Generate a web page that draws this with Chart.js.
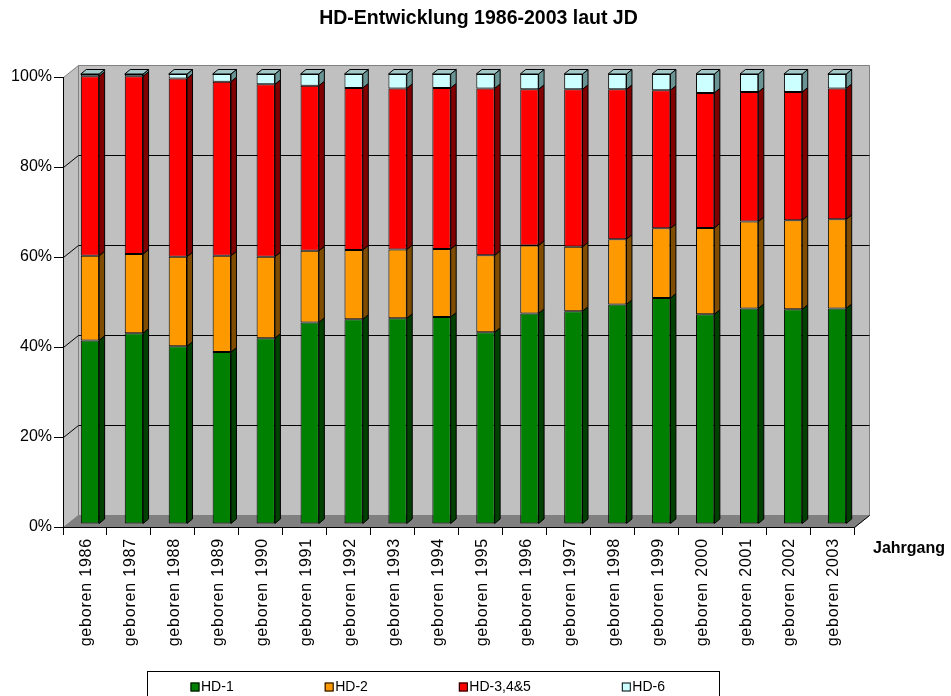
<!DOCTYPE html>
<html>
<head>
<meta charset="utf-8">
<script src="https://cdn.jsdelivr.net/npm/chart.js@4.4.1/dist/chart.umd.min.js"></script>
<style>
  html, body { margin: 0; padding: 0; background: #fff; }
</style>
</head>
<body>
<canvas id="hdChart" width="951" height="696"></canvas>
<script>
// Categories (Jahrgang)
const categories = [
  "geboren 1986", "geboren 1987", "geboren 1988", "geboren 1989", "geboren 1990", "geboren 1991",
  "geboren 1992", "geboren 1993", "geboren 1994", "geboren 1995", "geboren 1996", "geboren 1997",
  "geboren 1998", "geboren 1999", "geboren 2000", "geboren 2001", "geboren 2002", "geboren 2003"
];

// Shares in percent
const hd1   = [40.8, 42.4, 39.5, 38.2, 41.3, 44.8, 45.5, 45.7, 46.0, 42.6, 46.8, 47.3, 48.8, 50.2, 46.6, 47.9, 47.7, 47.9];
const hd2   = [18.8, 17.6, 19.9, 21.4, 18.1, 15.9, 15.4, 15.3, 15.1, 17.1, 15.1, 14.3, 14.5, 15.5, 19.2, 19.3, 19.8, 19.8];
const hd345 = [39.9, 39.5, 39.6, 38.7, 38.3, 36.7, 36.0, 35.8, 35.8, 37.1, 34.7, 35.0, 33.3, 30.7, 30.0, 28.8, 28.5, 29.1];
const hd6   = [0.5, 0.5, 1.0, 1.7, 2.3, 2.6, 3.1, 3.2, 3.1, 3.2, 3.4, 3.4, 3.4, 3.6, 4.2, 4.0, 4.0, 3.2];

const seriesNames = ["HD-1", "HD-2", "HD-3,4&5", "HD-6"];
const yTicks = [0, 20, 40, 60, 80, 100];
const chartTitle = "HD-Entwicklung 1986-2003 laut JD";
const xTitle = "Jahrgang";

const FONT = 'Arial, "Liberation Sans", sans-serif';
const fillColors = ["#008000", "#ff9900", "#ff0000", "#ccffff"];
const sideColors = ["#004000", "#7f4c00", "#800000", "#6a9494"];
const topColor = "#a2c8c8";

// 3D look: wall depth, bar offset inside the depth, bar depth
const DX = 15, DY = -12;
const BX = 5, BY = -3;
const BDX = 5.5, BDY = -4.5;

function poly(ctx, pts, fill, stroke) {
  ctx.beginPath();
  ctx.moveTo(pts[0][0], pts[0][1]);
  for (let i = 1; i < pts.length; i++) ctx.lineTo(pts[i][0], pts[i][1]);
  ctx.closePath();
  if (fill) { ctx.fillStyle = fill; ctx.fill(); }
  if (stroke) { ctx.strokeStyle = stroke; ctx.stroke(); }
}

const threeD = {
  id: "threeD",
  beforeDraw(chart) {
    const { ctx, chartArea: a, scales: { y } } = chart;
    const L = Math.round(a.left) + 0.5, R = Math.round(a.right) + 0.5;
    const T = Math.round(a.top) + 0.5, B = Math.round(a.bottom) + 0.5;
    ctx.save();
    ctx.lineWidth = 1;
    // back wall
    poly(ctx, [[L + DX, T + DY], [R + DX, T + DY], [R + DX, B + DY], [L + DX, B + DY]], "#c0c0c0", "#808080");
    // side wall
    poly(ctx, [[L, T], [L + DX, T + DY], [L + DX, B + DY], [L, B]], "#c0c0c0", "#808080");
    // floor
    poly(ctx, [[L, B], [L + DX, B + DY], [R + DX, B + DY], [R, B]], "#808080", "#808080");
    ctx.strokeStyle = "#000";
    ctx.beginPath();
    ctx.moveTo(R, B); ctx.lineTo(R + DX, B + DY);
    ctx.stroke();
    // gridlines on side + back wall
    yTicks.filter(v => v > 0 && v < 100).forEach(v => {
      const yp = Math.round(y.getPixelForValue(v)) + 0.5;
      ctx.beginPath();
      ctx.moveTo(L, yp);
      ctx.lineTo(L + DX, yp + DY);
      ctx.lineTo(R + DX, yp + DY);
      ctx.stroke();
    });
    ctx.restore();
  },
  beforeDatasetsDraw(chart) {
    chart.ctx.save();
    chart.ctx.translate(BX, BY);
  },
  afterDatasetsDraw(chart) {
    const ctx = chart.ctx;
    ctx.lineWidth = 1;
    const n = chart.data.datasets.length;
    chart.data.datasets.forEach((ds, d) => {
      chart.getDatasetMeta(d).data.forEach(el => {
        const p = el.getProps(["x", "y", "base", "width"], true);
        const left = p.x - p.width / 2, right = p.x + p.width / 2;
        const top = Math.min(p.y, p.base), bottom = Math.max(p.y, p.base);
        poly(ctx, [[right, top], [right + BDX, top + BDY], [right + BDX, bottom + BDY], [right, bottom]], sideColors[d], "#000");
        if (d === n - 1) {
          poly(ctx, [[left, top], [left + BDX, top + BDY], [right + BDX, top + BDY], [right, top]], topColor, "#000");
        }
      });
    });
    ctx.restore();
    ctx.letterSpacing = "0.8px"; // x labels are drawn after this (z: 1)
  },
  afterDraw(chart) {
    const ctx = chart.ctx;
    ctx.save();
    ctx.letterSpacing = "0px";
    ctx.fillStyle = "#000";
    // chart title
    ctx.font = "bold 19.5px " + FONT;
    ctx.textAlign = "center";
    ctx.textBaseline = "alphabetic";
    ctx.fillText(chartTitle, 478.5, 24);
    // axis title
    ctx.textBaseline = "middle";
    ctx.font = "bold 16px " + FONT;
    ctx.textAlign = "left";
    ctx.fillText(xTitle, 873, 549);
    // legend
    ctx.font = "14px " + FONT;
    ctx.lineWidth = 1;
    ctx.strokeStyle = "#000";
    ctx.strokeRect(147.5, 671.5, 572, 30);
    let x = 190.5;
    const yc = 687;
    chart.data.datasets.forEach((ds, i) => {
      ctx.fillStyle = fillColors[i];
      ctx.fillRect(x, yc - 4.5, 9, 9);
      ctx.strokeRect(x + 0.5, yc - 4, 8, 8);
      ctx.fillStyle = "#000";
      ctx.fillText(ds.label, x + 10.5, yc);
      x += 10.5 + ctx.measureText(ds.label).width + 91;
    });
    ctx.restore();
  }
};

const seriesData = [hd1, hd2, hd345, hd6];

new Chart(document.getElementById("hdChart"), {
  type: "bar",
  data: {
    labels: categories,
    datasets: seriesNames.map((name, i) => ({
      label: name,
      data: seriesData[i],
      backgroundColor: fillColors[i],
      borderColor: "#000",
      borderWidth: 1,
      borderSkipped: false,
      categoryPercentage: 1,
      barPercentage: 0.417,
      clip: false
    }))
  },
  options: {
    responsive: false,
    animation: false,
    layout: { padding: { left: 0, right: 97, top: 77, bottom: 0 } },
    plugins: {
      legend: { display: false },
      tooltip: { enabled: false },
      title: { display: false }
    },
    scales: {
      x: {
        stacked: true,
        afterFit: s => { s.height = 169; },
        grid: { offset: true, drawOnChartArea: false, tickLength: 8, color: "#000" },
        border: { color: "#000" },
        ticks: {
          z: 1,
          autoSkip: false,
          minRotation: 90,
          maxRotation: 90,
          padding: 3,
          labelOffset: 2,
          color: "#000",
          font: { family: FONT, size: 16 }
        }
      },
      y: {
        stacked: true,
        min: 0,
        max: 100,
        afterFit: s => { s.width = 63; },
        afterBuildTicks: s => { s.ticks = yTicks.map(v => ({ value: v })); },
        grid: { drawOnChartArea: false, tickLength: 9, color: "#000" },
        border: { color: "#000" },
        ticks: {
          padding: 2,
          color: "#000",
          font: { family: FONT, size: 16 },
          callback: v => v + "%"
        }
      }
    }
  },
  plugins: [threeD]
});
</script>
</body>
</html>
